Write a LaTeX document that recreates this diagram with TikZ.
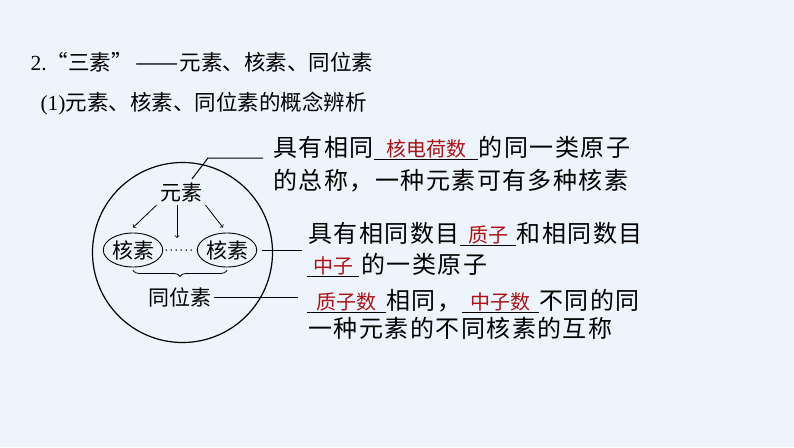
\documentclass[tikz,border=0pt]{standalone}
\usepackage{fontspec}
\setmainfont{Liberation Serif}
\newfontfamily\cjk{Noto Sans CJK SC}
\newfontfamily\cjkbody[LetterSpace=6]{Noto Sans CJK SC}
\usetikzlibrary{positioning,shapes.geometric,decorations.pathreplacing}
\definecolor{bgblue}{RGB}{238,244,251}
\definecolor{answerred}{RGB}{172,18,22}
\tikzset{
  every node/.style={inner sep=0pt},
  hd/.style={anchor=base west,font=\fontsize{21.5}{25}\selectfont\cjk},
  inner/.style={font=\fontsize{21}{25}\selectfont\cjk},
  desc/.style={font=\fontsize{24}{28}\selectfont\cjkbody},
  blank/.style={font=\fontsize{20}{24}\selectfont\cjk,text=answerred,inner ysep=1.6pt},
  nuclide/.style={ellipse,draw,line width=0.9pt,minimum width=59,minimum height=34},
  dotrow/.style={line width=1.7pt,line cap=round,dash pattern=on 0pt off 5pt,shorten <=3pt,shorten >=2pt},
}
\begin{document}
\begin{tikzpicture}[x=1pt,y=-1pt,line width=1pt]
  \fill[bgblue] (0,0) rectangle (794,447);
  \useasboundingbox (0,0) rectangle (794,447);

  % headings
  \node[hd] (title) at (30,70) {{\rmfamily 2.}“三素”\kern3pt\scalebox{1.2}[1]{——}\kern1pt 元素、核素、同位素};
  \node[hd] (sub) at (40,110) {{\rmfamily (1)}元素、核素、同位素的概念辨析};

  % circle with the three terms
  \node (ring) [circle,draw,line width=1.2pt,minimum size=180] at (182.5,252.5) {};
  \node[inner,inner sep=3pt] (yuan) at (181,192) {元素};
  \node[nuclide,inner] (hx1) at (133,250) {核素};
  \node[nuclide,inner] (hx2) at (227,250) {核素};
  \node[inner] (tong) at (180,297) {同位素};
  \coordinate (c1) at (263,158);
  \coordinate (c2) at (302,250);
  \coordinate (c3) at (298,297);
  \coordinate (mid) at (177,238);

  \draw[->,line width=0.8pt] (yuan.south west) -- ([yshift=5pt]hx1.north);
  \draw[->,line width=0.8pt] ([xshift=-4pt]yuan.south) -- (mid);
  \draw[->,line width=0.8pt] (yuan.south east) -- ([xshift=-4pt,yshift=5pt]hx2.north);
  \draw[dotrow] (hx1) -- (hx2);
  \draw[line width=0.8pt,decorate,decoration={brace,mirror,amplitude=6pt}]
    ([yshift=-3pt]hx1.south) -- ([yshift=-3pt]hx2.south);

  % leader lines
  \draw ([xshift=11pt]yuan.north) -- (208,158) -- (c1);
  \draw[shorten <=5pt] (hx2.east) -- (c2);
  \draw[shorten <=2pt] (tong.east) -- (c3);

  % definitions
  \node[desc,anchor=base west] (t1a) at (273,156) {具有相同};
  \node[blank,minimum width=103,base right=0pt of t1a] (b1) {核电荷数};
  \node[desc,base right=0pt of b1] (t1b) {的同一类原子};
  \node[desc,anchor=base west] (t2) at (273,189) {的总称，一种元素可有多种核素};

  \node[desc,anchor=base west] (t3a) at (308,242) {具有相同数目};
  \node[blank,minimum width=55,base right=0pt of t3a] (b3) {质子};
  \node[desc,base right=0pt of b3] (t3b) {和相同数目};
  \node[blank,minimum width=51,anchor=base west] (b4) at (307,273) {中子};
  \node[desc,base right=2pt of b4] (t4) {的一类原子};

  \node[blank,minimum width=78,anchor=base west] (b5a) at (307,309) {质子数};
  \node[desc,base right=0pt of b5a] (t5a) {相同，};
  \node[blank,minimum width=76,base right=0pt of t5a] (b5b) {中子数};
  \node[desc,base right=0pt of b5b] (t5b) {不同的同};
  \node[desc,anchor=base west] (t6) at (308,337) {一种元素的不同核素的互称};

  \foreach \b in {b1,b3,b4,b5a,b5b}
    \draw (\b.south west) -- (\b.south east);
\end{tikzpicture}
\end{document}
